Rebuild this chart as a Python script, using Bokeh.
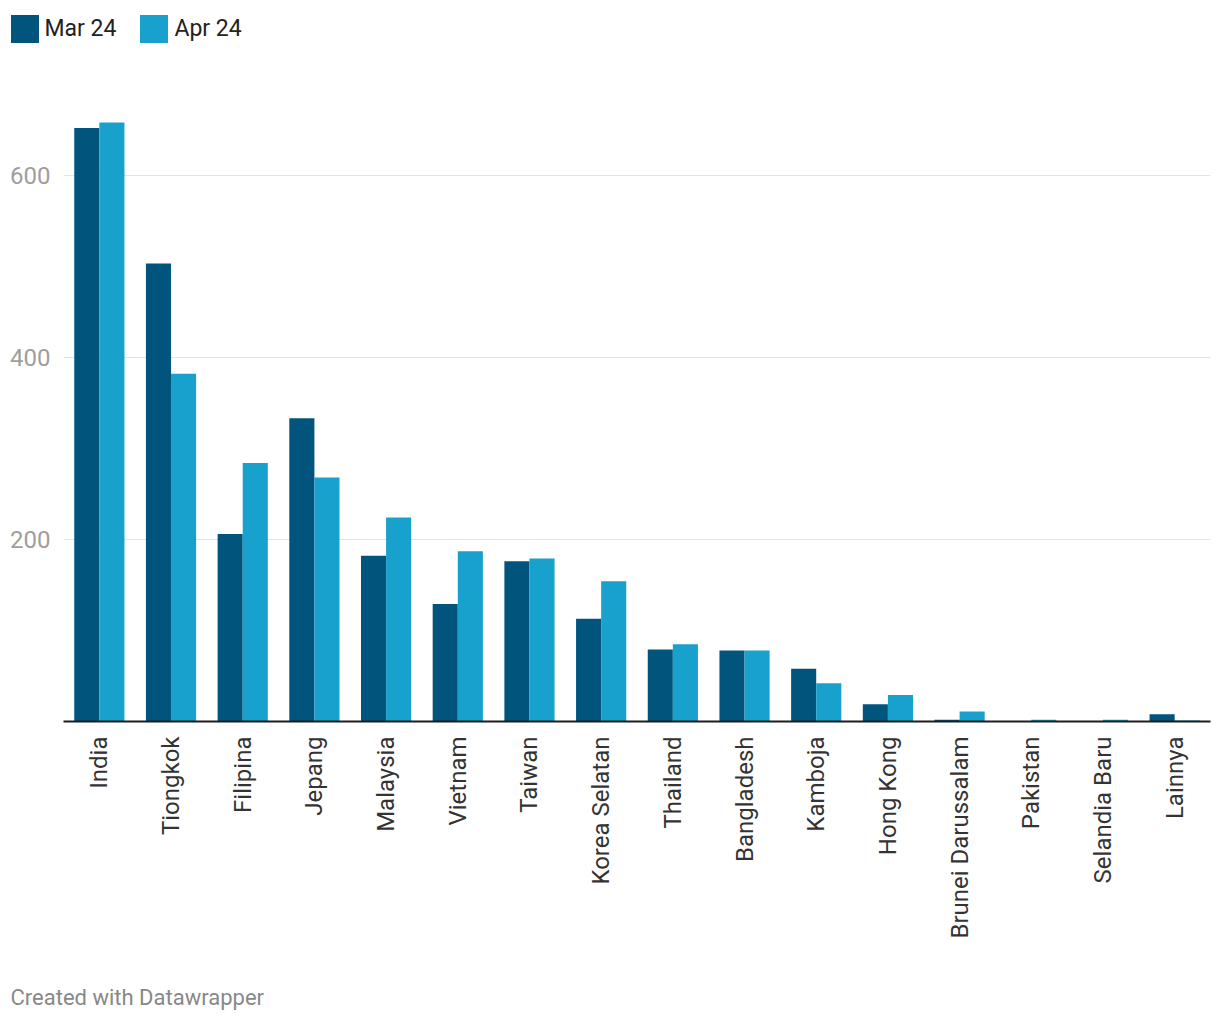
import math
from bokeh.plotting import figure
from bokeh.layouts import column
from bokeh.models import (FactorRange, Range1d, FixedTicker, Legend, LegendItem,
                          Label, ColumnDataSource)
from bokeh.transform import dodge
from bokeh.embed import file_html
from bokeh.resources import INLINE

categories = ["India", "Tiongkok", "Filipina", "Jepang", "Malaysia", "Vietnam",
              "Taiwan", "Korea Selatan", "Thailand", "Bangladesh", "Kamboja",
              "Hong Kong", "Brunei Darussalam", "Pakistan", "Selandia Baru", "Lainnya"]
mar_24 = [652, 503, 206, 333, 182, 129, 176, 113, 79, 78, 58, 19, 2, 0, 0, 8]
apr_24 = [658, 382, 284, 268, 224, 187, 179, 154, 85, 78, 42, 29, 11, 2, 2, 1]
series_names = ["Mar 24", "Apr 24"]
y_ticks = [0, 200, 400, 600]

C_MAR = "#01557d"
C_APR = "#18a1cd"
FONT = "Roboto"
W = 1212


def strip(height):
    f = figure(width=W, height=height, x_range=Range1d(0, 1), y_range=Range1d(0, 1),
               output_backend="svg", toolbar_location=None, min_border=0,
               min_border_left=0, min_border_right=0, min_border_top=0,
               min_border_bottom=0, x_axis_location=None, y_axis_location=None)
    f.outline_line_color = None
    f.grid.visible = False
    f.background_fill_color = "white"
    f.border_fill_color = "white"
    if "frame_align" in f.properties():
        f.frame_align = False
    return f


# ---------- legend strip ----------
LEG_H = 56
lf = strip(LEG_H)
dummy = ColumnDataSource(dict(x=[5], top=[1]))
lr1 = lf.vbar(x="x", top="top", width=0.1, source=dummy, color=C_MAR, line_color=None)
lr2 = lf.vbar(x="x", top="top", width=0.1, source=dummy, color=C_APR, line_color=None)
legend = Legend(items=[LegendItem(label=series_names[0], renderers=[lr1]),
                       LegendItem(label=series_names[1], renderers=[lr2])],
                orientation="horizontal", location=(6.5, 10.5),
                glyph_width=35, glyph_height=35, padding=0, margin=0,
                spacing=20, label_standoff=3,
                label_text_font=FONT, label_text_font_size="23px",
                label_text_color="#222222", background_fill_alpha=0,
                border_line_color=None, label_height=35)
lf.add_layout(legend, "center")

# ---------- main chart ----------
P_H = 905
src = ColumnDataSource(dict(cat=categories, mar=mar_24, apr=apr_24))

p = figure(x_range=FactorRange(*categories, range_padding=0),
           y_range=Range1d(0, 680),
           width=W, height=P_H, output_backend="svg",
           toolbar_location=None, min_border_left=63, min_border_right=2,
           min_border_top=102 - LEG_H, min_border_bottom=P_H - (721 - LEG_H))
p.outline_line_color = None
p.background_fill_color = "white"
p.border_fill_color = "white"
if "frame_align" in p.properties():
    p.frame_align = False

r1 = p.vbar(x=dodge("cat", -0.175, range=p.x_range), top="mar", width=0.35,
            source=src, color=C_MAR, line_color=None)
r2 = p.vbar(x=dodge("cat", 0.175, range=p.x_range), top="apr", width=0.35,
            source=src, color=C_APR, line_color=None)

# grid
p.xgrid.grid_line_color = None
p.ygrid.grid_line_color = "#e3e3e3"
p.ygrid.grid_line_width = 1

# y axis
p.yaxis.ticker = FixedTicker(ticks=y_ticks)
p.yaxis.major_label_overrides = {0: ""}
p.yaxis.axis_line_color = None
p.yaxis.major_tick_line_color = None
p.yaxis.minor_tick_line_color = None
p.yaxis.major_label_text_color = "#9e9e9e"
p.yaxis.major_label_text_font = FONT
p.yaxis.major_label_text_font_size = "24px"
p.yaxis.major_label_standoff = 7

# x axis
p.xaxis.axis_line_color = "#1d1d1d"
p.xaxis.axis_line_width = 2
p.xaxis.major_tick_line_color = None
p.xaxis.minor_tick_line_color = None
p.xaxis.major_label_orientation = math.pi / 2
p.xaxis.major_label_text_color = "#333333"
p.xaxis.major_label_text_font = FONT
p.xaxis.major_label_text_font_size = "24px"
p.xaxis.major_label_standoff = 9

# ---------- footer strip ----------
FOOT_H = 1014 - LEG_H - P_H
ff = strip(FOOT_H)
footer = Label(x=10, y=FOOT_H - (997 - LEG_H - P_H), x_units="screen", y_units="screen",
               text="Created with Datawrapper", text_font=FONT,
               text_font_size="22px", text_color="#888888",
               text_baseline="middle", text_align="left")
ff.add_layout(footer)

layout = column(lf, p, ff, spacing=0)
open("out.html", "w").write(file_html(layout, INLINE))
